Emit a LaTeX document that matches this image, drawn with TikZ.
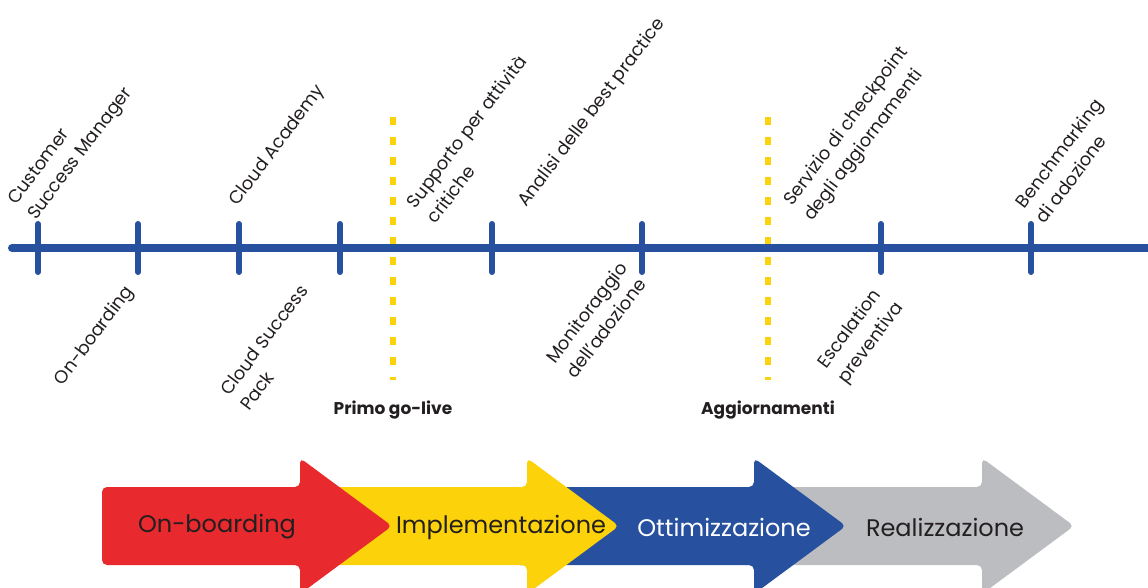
\documentclass[tikz,border=0pt]{standalone}
\usepackage{fontspec}
\setmainfont{Poppins}
\definecolor{tlblue}{HTML}{27509F}
\definecolor{phred}{HTML}{E8292D}
\definecolor{phyellow}{HTML}{FCD20B}
\definecolor{phgray}{HTML}{BCBDC0}
\definecolor{ink}{HTML}{231F20}

\begin{document}
\begin{tikzpicture}[x=1pt,y=-1pt,
  tick/.style={line width=6pt,tlblue,line cap=round},
  golive/.style={line width=6pt,phyellow,dash pattern=on 8pt off 12pt},
  toplabel/.style={rotate=53,anchor=south west,align=left,inner sep=0pt,text=ink,font=\fontsize{18}{25}\selectfont},
  botlabel/.style={rotate=53,anchor=north east,align=left,inner sep=0pt,text=ink,font=\fontsize{18}{25}\selectfont},
  milestone/.style={text=ink,font=\bfseries\fontsize{17}{20}\selectfont},
  phase/.style={font=\fontsize{24}{30}\selectfont,inner sep=0pt}]
\useasboundingbox (0,0) rectangle (1148,587);
\clip (0,0) rectangle (1148,587);

% phase arrows, back to front
\fill[phgray,rounded corners=5pt] (740,487) -- (982,487) -- (982,458) -- (1074,526) -- (982,594) -- (982,565) -- (740,565) -- cycle;
\fill[tlblue,rounded corners=5pt] (515,487) -- (754,487) -- (754,458) -- (846,526) -- (754,594) -- (754,565) -- (515,565) -- cycle;
\fill[phyellow,rounded corners=5pt] (290,487) -- (527,487) -- (527,458) -- (619,526) -- (527,594) -- (527,565) -- (290,565) -- cycle;
\fill[phred,rounded corners=5pt] (102,487) -- (300,487) -- (300,458) -- (392,526) -- (300,594) -- (300,565) -- (102,565) -- cycle;

\node[phase,text=ink] (onb) at (217,527) {On-boarding};
\node[phase,text=ink] (impl) at (501,527) {Implementazione};
\node[phase,text=white] (ottim) at (724,527) {Ottimizzazione};
\node[phase,text=ink] (real) at (945,527) {Realizzazione};

% go-live lines
\coordinate (gl1top) at (393,117);
\coordinate (gl1bot) at (393,380);
\coordinate (gl2top) at (768,117);
\coordinate (gl2bot) at (768,380);
\draw[golive] (gl1top) -- (gl1bot);
\draw[golive] (gl2top) -- (gl2bot);
\node[milestone] (golive) at (393,410) {Primo go-live};
\node[milestone] (aggior) at (768,410) {Aggiornamenti};

% timeline
\coordinate (tlstart) at (12,248);
\coordinate (tlend) at (1152,248);
\draw[line width=8pt,tlblue,line cap=round] (tlstart) -- (tlend);
\foreach \x in {38,138,239,340,492,642,881,1031}
  \draw[tick] (\x,224) -- (\x,272);

% labels above
\node[toplabel] (csm) at (40,224) {Customer\\Success Manager};
\node[toplabel] (academy) at (241,210) {Cloud Academy};
\node[toplabel] (support) at (436,225) {Supporto per attività\\critiche};
\node[toplabel] (bestpr) at (530,211) {Analisi delle best practice};
\node[toplabel] (checkp) at (816,225) {Servizio di checkpoint\\degli aggiornamenti};
\node[toplabel] (bench) at (1045,225) {Benchmarking\\di adozione};

% labels below
\node[botlabel] (onbl) at (123,283) {On-boarding};
\node[botlabel] (pack) at (298,283) {Cloud Success\\Pack};
\node[botlabel] (monit) at (617,260) {Monitoraggio\\dell'adozione};
\node[botlabel] (escal) at (873,284) {Escalation\\preventiva};
\end{tikzpicture}
\end{document}
